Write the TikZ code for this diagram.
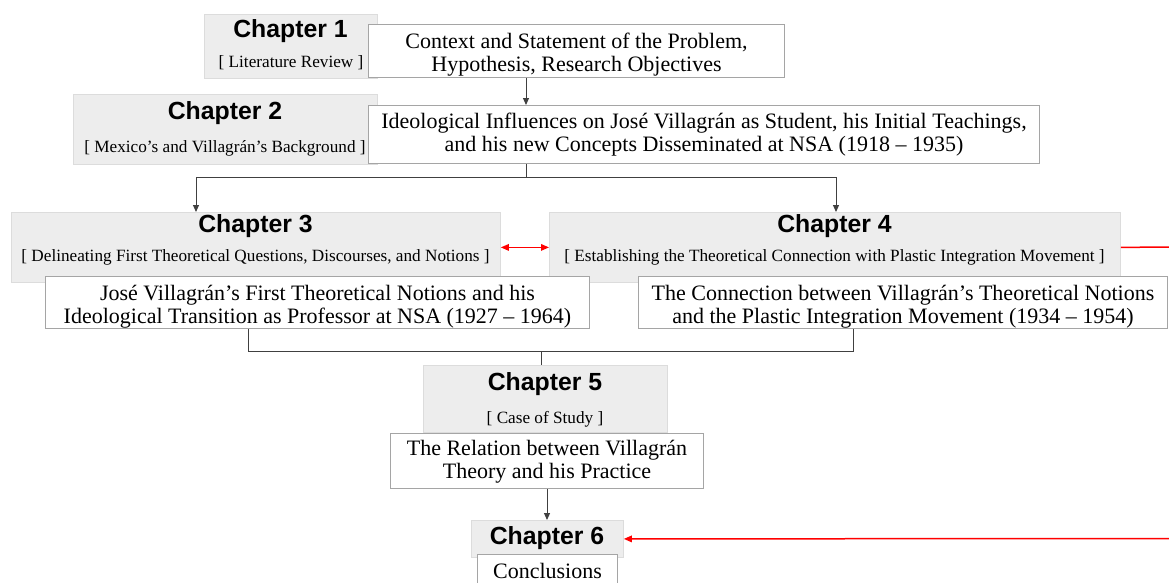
\documentclass[tikz,border=0pt]{standalone}
\usepackage{fontspec}
\setmainfont{Liberation Serif}
\newfontfamily\headfont{Liberation Sans}
\usetikzlibrary{arrows.meta}

\definecolor{chapfill}{HTML}{EDEDED}
\definecolor{chapedge}{HTML}{DCDCDC}
\definecolor{boxedge}{HTML}{A5A5A5}
\definecolor{linkgray}{HTML}{404040}
\definecolor{linkred}{HTML}{FF0000}

% invisible strut that sets the height of a box's first line
\newcommand\tstrut[1]{\rule{0pt}{#1pt}}

\begin{document}
\begin{tikzpicture}[x=1pt,y=-1pt,
  chapbox/.style={draw=chapedge, fill=chapfill, line width=0.8pt, anchor=north west, inner sep=0pt},
  textbox/.style={draw=boxedge, fill=white, line width=1pt, anchor=north west,
    inner sep=0pt, align=center, font=\fontsize{22}{23}\selectfont},
  chaphead/.style={anchor=base, inner sep=0pt, font=\headfont\bfseries\fontsize{24.8}{26}\selectfont},
  chapsub/.style={anchor=base, inner sep=0pt, font=\fontsize{17.2}{18}\selectfont},
  link/.style={draw=linkgray, line width=1pt},
  linkarrow/.style={link, -{Triangle[length=7pt,width=6pt]}},
  redlink/.style={draw=linkred, line width=1.5pt},
  redtip/.tip={Triangle[length=8pt,width=6.5pt]},
]
\useasboundingbox (0,0) rectangle (1169,582);
\clip (0,0) rectangle (1169,582);

% chapter panels
\node[chapbox, minimum width=173pt, minimum height=64pt] (ch1) at (204,14) {};
\node[chapbox, minimum width=304pt, minimum height=70pt] (ch2) at (73,94) {};
\node[chapbox, minimum width=489pt, minimum height=70pt] (ch3) at (11,212) {};
\node[chapbox, minimum width=571pt, minimum height=70pt] (ch4) at (549,212) {};
\node[chapbox, minimum width=244pt, minimum height=67pt] (ch5) at (423,365) {};
\node[chapbox, minimum width=152pt, minimum height=37pt] (ch6) at (471,520) {};

% chapter titles and subtitles
\node[chaphead] (h1) at (290.5,37) {Chapter 1};
\node[chapsub]  (s1) at (291,67) {[ Literature Review ]};
\node[chaphead] (h2) at (225,119) {Chapter 2};
\node[chapsub]  (s2) at (225,152) {[ Mexico’s and Villagrán’s Background ]};
\node[chaphead] (h3) at (255.5,232) {Chapter 3};
\node[chapsub]  (s3) at (255.5,261) {[ Delineating First Theoretical Questions, Discourses, and Notions ]};
\node[chaphead] (h4) at (834.5,232) {Chapter 4};
\node[chapsub]  (s4) at (834.5,261) {[ Establishing the Theoretical Connection with Plastic Integration Movement ]};
\node[chaphead] (h5) at (545,390) {Chapter 5};
\node[chapsub]  (s5) at (545,423) {[ Case of Study ]};
\node[chaphead] (h6) at (547,544) {Chapter 6};

% content boxes
\node[textbox, minimum width=416pt, minimum height=53pt] (b1) at (368,24)
  {\tstrut{22.8}Context and Statement of the Problem,\\ Hypothesis, Research Objectives};
\node[textbox, minimum width=671pt, minimum height=58pt] (b2) at (368,105)
  {Ideological Influences on José Villagrán as Student, his Initial Teachings,\\ and his new Concepts Disseminated at NSA (1918 – 1935)};
\node[textbox, minimum width=544pt, minimum height=52pt] (b3) at (45,276)
  {\tstrut{23.4}José Villagrán’s First Theoretical Notions and his\\ Ideological Transition as Professor at NSA (1927 – 1964)};
\node[textbox, minimum width=529pt, minimum height=52pt] (b4) at (638,276)
  {\tstrut{23.4}The Connection between Villagrán’s Theoretical Notions\\ and the Plastic Integration Movement (1934 – 1954)};
\node[textbox, minimum width=313pt, minimum height=55pt] (b5) at (390,433)
  {\tstrut{16.8}The Relation between Villagrán\\ Theory and his Practice};
\node[textbox, minimum width=140pt, minimum height=32pt] (b6) at (477,554)
  {Conclusions};

% junction points of the connectors
\coordinate (j1) at (526,0);
\coordinate (fork) at (526,177);
\coordinate (f3) at (196,177);
\coordinate (f4) at (836,177);
\coordinate (m3) at (248,351);
\coordinate (m4) at (853,351);
\coordinate (m5) at (541,351);
\coordinate (edge1) at (1169,247);
\coordinate (edge2) at (1169,538.5);

% grey connectors
\draw[linkarrow] (b1.south -| j1) -- (b2.north -| j1);
\draw[link] (b2.south -| fork) -- (fork);
\draw[linkarrow] (fork) -| (ch3.north -| f3);
\draw[linkarrow] (fork) -| (ch4.north -| f4);
\draw[link] (b3.south -| m3) -- (m3) -- (m4) -- (b4.south -| m4);
\draw[link] (m5) -- (ch5.north -| m5);
\draw[linkarrow] (b5.south) -- (b5.south |- ch6.north);

% red links
\draw[redlink, redtip-redtip] (ch3.east) -- (ch4.west);
\draw[redlink] (ch4.east) -- (edge1);
\draw[redlink, -redtip] (edge2) -- (ch6.east);
\end{tikzpicture}
\end{document}
